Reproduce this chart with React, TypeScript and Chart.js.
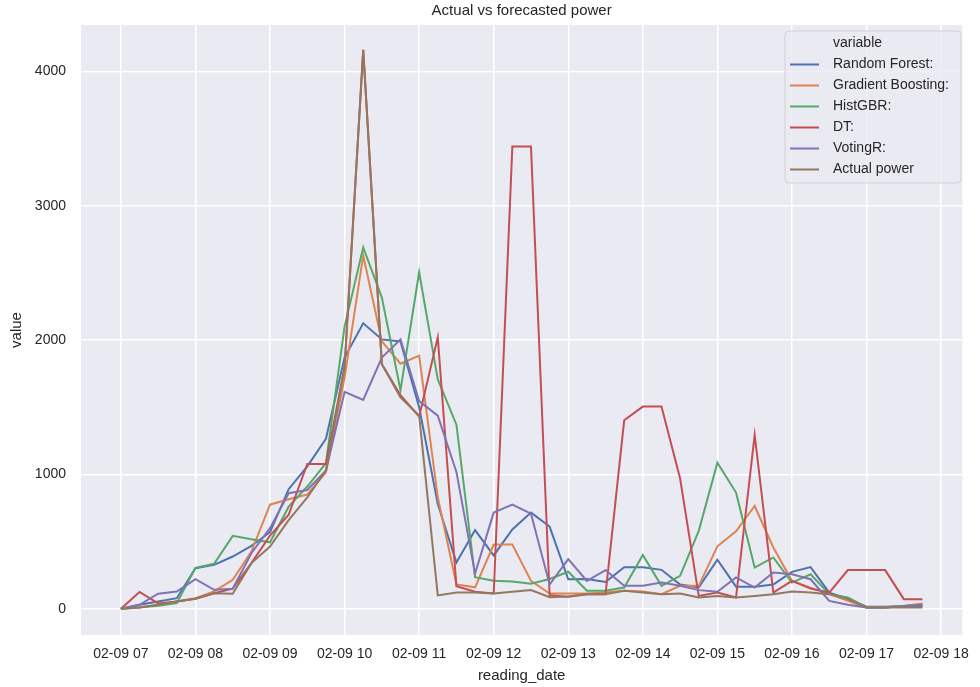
import React, { useEffect, useRef } from 'react';
import { Chart, registerables } from 'chart.js';

Chart.register(...registerables);

const dayLabel = '02-09';
const times = [
  '07:00', '07:15', '07:30', '07:45', '08:00', '08:15', '08:30', '08:45',
  '09:00', '09:15', '09:30', '09:45', '10:00', '10:15', '10:30', '10:45',
  '11:00', '11:15', '11:30', '11:45', '12:00', '12:15', '12:30', '12:45',
  '13:00', '13:15', '13:30', '13:45', '14:00', '14:15', '14:30', '14:45',
  '15:00', '15:15', '15:30', '15:45', '16:00', '16:15', '16:30', '16:45',
  '17:00', '17:15', '17:30', '17:45',
];
const hourTicks = [7, 8, 9, 10, 11, 12, 13, 14, 15, 16, 17, 18];
const valueTicks = [0, 1000, 2000, 3000, 4000];

const randomForest = [0, 30, 55, 79, 302, 327, 389, 468, 570, 890, 1060, 1265, 1870, 2125, 2005, 1990, 1500, 780, 345, 586, 397, 590, 716, 612, 220, 222, 200, 310, 310, 290, 180, 160, 365, 165, 165, 180, 275, 310, 120, 75, 15, 15, 20, 20];
const gradientBoosting = [0, 10, 30, 55, 79, 129, 216, 426, 775, 815, 850, 1015, 1720, 2630, 1990, 1824, 1884, 830, 181, 160, 478, 478, 208, 114, 114, 114, 121, 134, 128, 109, 171, 171, 465, 577, 765, 456, 208, 158, 109, 59, 10, 10, 20, 40];
const histGBR = [0, 12, 22, 42, 305, 335, 543, 518, 495, 760, 910, 1085, 2100, 2690, 2316, 1627, 2505, 1708, 1370, 235, 208, 203, 186, 222, 276, 134, 134, 158, 401, 171, 245, 580, 1088, 865, 307, 382, 195, 257, 109, 84, 10, 10, 20, 30];
const decisionTree = [0, 125, 40, 55, 75, 116, 150, 340, 545, 700, 1078, 1078, 1800, 4160, 1820, 1590, 1430, 2020, 168, 127, 114, 3440, 3440, 100, 90, 109, 109, 1403, 1505, 1505, 970, 96, 121, 84, 1295, 121, 208, 150, 121, 288, 288, 288, 72, 72];
const votingR = [0, 30, 112, 129, 220, 141, 149, 414, 600, 860, 884, 1030, 1614, 1554, 1870, 2005, 1546, 1438, 1019, 262, 716, 776, 708, 181, 370, 208, 288, 171, 171, 195, 171, 139, 127, 233, 158, 270, 257, 220, 59, 30, 10, 10, 20, 30];
const actualPower = [0, 10, 30, 55, 74, 116, 112, 340, 463, 660, 830, 1030, 1800, 4160, 1820, 1573, 1438, 100, 122, 122, 114, 127, 140, 86, 92, 109, 109, 134, 121, 109, 114, 84, 96, 84, 96, 109, 128, 121, 109, 72, 10, 10, 10, 10];

const seriesNames = ['Random Forest:', 'Gradient Boosting:', 'HistGBR:', 'DT:', 'VotingR:', 'Actual power'];
const seriesValues = [randomForest, gradientBoosting, histGBR, decisionTree, votingR, actualPower];
const seriesColors = ['#4C72B0', '#DD8452', '#55A868', '#C44E52', '#8172B3', '#937860'];

const titleText = 'Actual vs forecasted power';
const xTitle = 'reading_date';
const yTitle = 'value';
const legendTitle = 'variable';

const FONT = '"Liberation Sans", Arial, sans-serif';
const TEXT = '#262626';

const toHour = (t: string) => {
  const [h, m] = t.split(':').map(Number);
  return h + m / 60;
};

const decorPlugin = {
  id: 'decor',
  beforeDraw(chart: any) {
    const { ctx, chartArea } = chart;
    ctx.save();
    ctx.fillStyle = '#ffffff';
    ctx.fillRect(0, 0, chart.width, chart.height);
    ctx.fillStyle = '#EAEAF2';
    ctx.fillRect(chartArea.left, chartArea.top, chartArea.right - chartArea.left, chartArea.bottom - chartArea.top);
    ctx.restore();
  },
  afterDraw(chart: any) {
    const { ctx, chartArea } = chart;
    ctx.save();
    ctx.fillStyle = TEXT;
    ctx.textBaseline = 'middle';
    ctx.textAlign = 'center';
    ctx.font = `15px ${FONT}`;
    const cx = (chartArea.left + chartArea.right) / 2;
    ctx.fillText(titleText, cx, 11);
    ctx.fillText(xTitle, cx, 676);
    ctx.save();
    ctx.translate(17, (chartArea.top + chartArea.bottom) / 2);
    ctx.rotate(-Math.PI / 2);
    ctx.fillText(yTitle, 0, 0);
    ctx.restore();

    // legend
    const bx = 785, by = 31, bw = 176, bh = 152, r = 4;
    ctx.beginPath();
    ctx.moveTo(bx + r, by);
    ctx.lineTo(bx + bw - r, by);
    ctx.quadraticCurveTo(bx + bw, by, bx + bw, by + r);
    ctx.lineTo(bx + bw, by + bh - r);
    ctx.quadraticCurveTo(bx + bw, by + bh, bx + bw - r, by + bh);
    ctx.lineTo(bx + r, by + bh);
    ctx.quadraticCurveTo(bx, by + bh, bx, by + bh - r);
    ctx.lineTo(bx, by + r);
    ctx.quadraticCurveTo(bx, by, bx + r, by);
    ctx.closePath();
    ctx.fillStyle = 'rgba(234,234,242,0.8)';
    ctx.fill();
    ctx.strokeStyle = 'rgba(204,204,204,0.8)';
    ctx.lineWidth = 1;
    ctx.stroke();

    ctx.font = `14px ${FONT}`;
    ctx.textAlign = 'left';
    ctx.fillStyle = TEXT;
    const rowH = 21;
    const y0 = 43.5;
    ctx.fillText(legendTitle, 833, y0);
    seriesNames.forEach((name, i) => {
      const y = y0 + rowH * (i + 1);
      ctx.strokeStyle = seriesColors[i];
      ctx.lineWidth = 2;
      ctx.beginPath();
      ctx.moveTo(790, y);
      ctx.lineTo(819, y);
      ctx.stroke();
      ctx.fillStyle = TEXT;
      ctx.fillText(name, 833, y);
    });
    ctx.restore();
  },
};

export default function App() {
  const canvasRef = useRef<HTMLCanvasElement | null>(null);

  useEffect(() => {
    if (!canvasRef.current) return;
    const xs = times.map(toHour);
    const datasets = seriesNames.map((name, i) => ({
      label: name,
      data: xs.map((x, j) => ({ x, y: seriesValues[i][j] })),
      borderColor: seriesColors[i],
      backgroundColor: seriesColors[i],
      borderWidth: 2,
      pointRadius: 0,
      tension: 0,
      fill: false,
      order: seriesNames.length - 1 - i,
    }));

    const chart = new Chart(canvasRef.current, {
      type: 'line',
      data: { datasets },
      plugins: [decorPlugin],
      options: {
        responsive: false,
        animation: false,
        devicePixelRatio: 1,
        layout: { padding: { top: 25, right: 12, left: 0, bottom: 0 } },
        plugins: {
          legend: { display: false },
          title: { display: false },
          tooltip: { enabled: false },
        },
        scales: {
          x: {
            type: 'linear',
            min: 6.465,
            max: 18.285,
            afterBuildTicks: (scale: any) => {
              scale.ticks = hourTicks.map((v) => ({ value: v }));
            },
            afterFit: (scale: any) => {
              scale.height = 52;
            },
            ticks: {
              autoSkip: false,
              maxRotation: 0,
              padding: 11,
              color: TEXT,
              font: { family: FONT, size: 14 },
              callback: (v: any) => `${dayLabel} ${String(v).padStart(2, '0')}`,
            },
            grid: { color: '#ffffff', lineWidth: 1.5, drawTicks: false },
            border: { display: false },
          },
          y: {
            type: 'linear',
            min: -195,
            max: 4345,
            afterBuildTicks: (scale: any) => {
              scale.ticks = valueTicks.map((v) => ({ value: v }));
            },
            afterFit: (scale: any) => {
              scale.width = 81;
            },
            ticks: {
              padding: 15,
              color: TEXT,
              font: { family: FONT, size: 14 },
              callback: (v: any) => String(v),
            },
            grid: { color: '#ffffff', lineWidth: 1.5, drawTicks: false },
            border: { display: false },
          },
        },
      },
    } as any);

    return () => chart.destroy();
  }, []);

  return (
    <div style={{ position: 'absolute', left: 0, top: 0, width: 980, height: 687 }}>
      <canvas ref={canvasRef} width={980} height={687} style={{ display: 'block', width: 980, height: 687 }} />
    </div>
  );
}
